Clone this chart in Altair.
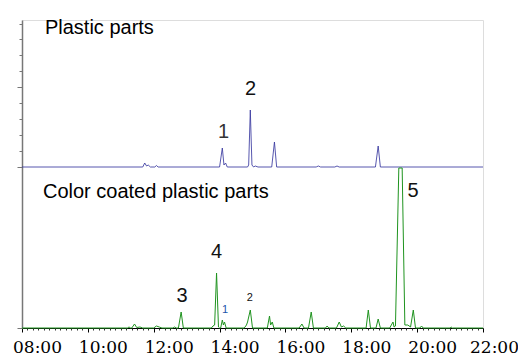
import altair as alt
import pandas as pd

# Retention time in minutes (08:00 = 480 min, 22:00 = 1320 min)
blue_t = [480, 700, 703.6, 707, 710, 714, 722, 725, 728,
          840, 845, 848, 851, 854, 891, 893, 896, 899, 902, 905, 910,
          935, 940, 944, 1016, 1020, 1024, 1050, 1054, 1058,
          1124, 1129, 1133, 1320]
blue_sig = [0, 0, 4, 1, 2, 0, 0, 1.5, 0,
            0, 19, 2, 4, 0, 0, 2, 57, 2, 0, 1, 0,
            0, 25, 0, 0, 1, 0, 0, 1, 0,
            0, 21, 0, 0]

green_t = [480, 672, 675, 678, 680, 685, 689, 695, 700, 720, 725, 730, 735,
           755, 758, 761, 765, 770, 774,
           825, 828, 831, 834.5, 838, 840, 842, 845, 847, 849, 852,
           885, 889, 891, 896, 900, 927, 931, 933, 936, 939,
           985, 990, 994, 1002, 1007, 1011, 1033, 1036, 1039,
           1053, 1058, 1062, 1066, 1070, 1107, 1111, 1115, 1125, 1129, 1133,
           1150, 1156, 1158, 1160.5, 1166.6, 1172.7, 1177.6, 1183, 1188,
           1193, 1197, 1205, 1208, 1211, 1260, 1262, 1264, 1320]
green_sig = [0, 0, 1, 0, 0, 4, 0.5, 1, 0, 0, 2, 1, 0,
             0, 1, 0, 0, 16, 0,
             0, 2, 3, 55, 1, 0, 0, 8, 3, 6, 0,
             0, 3, 6, 18, 0, 0, 12, 3, 6, 0,
             0, 4, 0, 0, 16, 0, 0, 2, 0,
             0, 6, 1, 2, 0, 0, 18, 0, 0, 9, 0,
             0, 6, 1, 2, 160, 160, 3, 3, 1,
             18, 0, 0, 2, 0, 0, 1, 0, 0]

title_text = ["Plastic parts", "Color coated plastic parts"]
title_t = [521.8, 518.2]
title_y = [294, 130.3]

num_text = ["1", "2", "3", "4", "1", "2", "5"]
num_t = [847.3, 896.3, 771.8, 834.5, 850, 895, 1192.7]
num_y = [190, 233, 26.3, 69.7, 14.7, 27, 131.3]
num_size = [20, 20, 20, 20, 11, 11, 20]
num_color = ["#333333", "#111111", "#111111", "#111111", "#2255aa", "#111111", "#111111"]

BLUE_OFFSET = 161
x_major = [480, 600, 720, 840, 960, 1080, 1200, 1320]
x_minor = [v for v in range(480, 1321, 10) if v % 120 != 0]
y_major = [0, 161, 241]
y_minor = [177, 193, 209, 225, 257, 273, 289, 304]

blue_df = pd.DataFrame({"t": blue_t, "sig": blue_sig})
green_df = pd.DataFrame({"t": green_t, "sig": green_sig})
title_df = pd.DataFrame({"t": title_t, "y": title_y, "label": title_text})
num_df = pd.DataFrame({"t": num_t, "y": num_y, "label": num_text,
                       "size": num_size, "color": num_color})

W, H = 461, 308
xscale = alt.Scale(domain=[480, 1320], nice=False, zero=False)
yscale = alt.Scale(domain=[0, 308], nice=False, zero=False)

label_expr = "(floor(datum.value / 60) < 10 ? '0' : '') + floor(datum.value / 60) + ':00'"

# tick labels sit ~15px right of their ticks in the reference
x_major_axis = alt.Axis(orient="bottom", values=x_major, labelExpr=label_expr, title=None,
                        grid=False, tickSize=4, tickColor="black",
                        domainColor="black", domainWidth=1,
                        labelFont="DejaVu Serif", labelFontSize=17, labelColor="black",
                        labelPadding=7,
                        labelOffset={"condition": {"test": "datum.value == 1320", "value": 11},
                                     "value": 15},
                        labelFlush=False, labelOverlap=False, labelBound=False)
x_minor_axis = alt.Axis(orient="bottom", values=x_minor, labels=False, title=None, grid=False,
                        domain=False, tickSize=2, tickColor="#333333")
y_major_axis = alt.Axis(orient="left", values=y_major, labels=False, title=None, grid=False,
                        tickSize=5, tickColor="#777777", domainColor="#777777", domainWidth=1.5)
y_minor_axis = alt.Axis(orient="left", values=y_minor, labels=False, title=None, grid=False,
                        domain=False, tickSize=3, tickColor="#777777")

blue = alt.Chart(blue_df).transform_calculate(
    yv=f"datum.sig + {BLUE_OFFSET}"
).mark_line(color="#3a3aa0", strokeWidth=1, opacity=0.85).encode(
    x=alt.X("t:Q", scale=xscale, axis=x_major_axis),
    y=alt.Y("yv:Q", scale=yscale, axis=y_major_axis),
    order="t:Q",
)

green = alt.Chart(green_df).mark_line(color="#1f931f", strokeWidth=1).encode(
    x=alt.X("t:Q", scale=xscale, axis=x_minor_axis),
    y=alt.Y("sig:Q", scale=yscale, axis=y_minor_axis),
    order="t:Q",
)

titles = alt.Chart(title_df).mark_text(align="left", baseline="alphabetic",
                                       font="Liberation Sans", fontSize=20, color="black").encode(
    x=alt.X("t:Q", scale=xscale, axis=None),
    y=alt.Y("y:Q", scale=yscale, axis=None),
    text="label:N",
)

nums = alt.Chart(num_df).mark_text(align="center", baseline="alphabetic",
                                   font="Liberation Sans").encode(
    x=alt.X("t:Q", scale=xscale, axis=None),
    y=alt.Y("y:Q", scale=yscale, axis=None),
    text="label:N",
    size=alt.Size("size:Q", scale=None, legend=None),
    color=alt.Color("color:N", scale=None, legend=None),
)

chart = alt.layer(blue, green, titles, nums).resolve_axis(
    x="independent", y="independent"
).properties(
    width=W, height=H,
    padding={"left": 14, "top": 12, "right": 35, "bottom": 27},
    autosize=alt.AutoSizeParams(type="none"),
).configure_view(stroke=None).configure(background="white")

chart.save("out.html", embed_options={"renderer": "svg", "actions": False})
